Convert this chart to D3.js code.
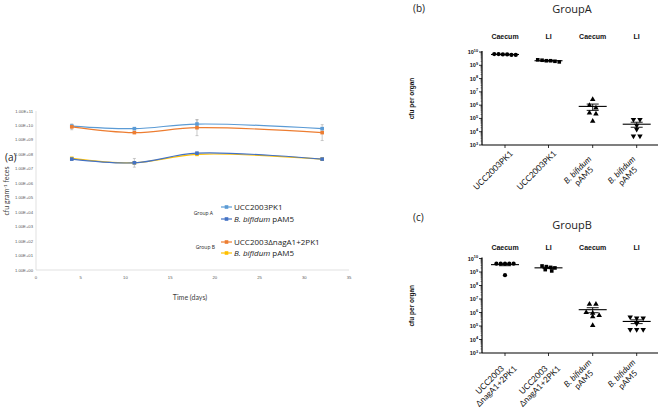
<!DOCTYPE html>
<html><head><meta charset="utf-8">
<script src="https://cdn.jsdelivr.net/npm/d3@7"></script>
<style>body{margin:0;background:#fff}svg{display:block}</style>
</head><body>
<svg id="c" width="660" height="409"></svg>
<script>
// ---------- Panel (a) data ----------
const days = [4, 11, 18, 32];
const groupA_ucc = [9.0e9, 6.0e9, 1.25e10, 6.0e9];
const groupA_bif = [4.7e7, 2.6e7, 1.2e8, 4.7e7];
const groupB_ucc = [8.0e9, 3.2e9, 7.0e9, 3.2e9];
const groupB_bif = [5.3e7, 2.6e7, 1.0e8, 4.7e7];
// error half-widths in log10 units
const errA_ucc = [0.08, 0.05, 0.3, 0.06];
const errA_bif = [0.08, 0.3, 0.08, 0.08];
const errB_ucc = [0.2, 0.05, 0.55, 0.55];
const errB_bif = [0.06, 0.05, 0.05, 0.05];
const seriesNames = ["UCC2003PK1", "B. bifidum pAM5", "UCC2003ΔnagA1+2PK1", "B. bifidum pAM5"];
const groupLabels = ["Group A", "Group B"];
const yTicksA = [1e0,1e1,1e2,1e3,1e4,1e5,1e6,1e7,1e8,1e9,1e10,1e11];
const yTickLabelsA = ["1.00E+00","1.00E+01","1.00E+02","1.00E+03","1.00E+04","1.00E+05","1.00E+06","1.00E+07","1.00E+08","1.00E+09","1.00E+10","1.00E+11"];
const xTicksA = [0, 5, 10, 15, 20, 25, 30, 35];

// ---------- Panels (b),(c) data ----------
const categoriesB = [["UCC2003PK1"], ["UCC2003PK1"], ["B. bifidum", "pAM5"], ["B. bifidum", "pAM5"]];
const categoriesC = [["UCC2003", "ΔnagA1+2PK1"], ["UCC2003", "ΔnagA1+2PK1"], ["B. bifidum", "pAM5"], ["B. bifidum", "pAM5"]];
const headers = ["Caecum", "LI", "Caecum", "LI"];
const b_caecum_ucc = [6.5e9, 7.0e9, 6.0e9, 6.5e9, 7.0e9, 6.0e9];
const b_li_ucc = [2.2e9, 2.0e9, 2.6e9, 1.8e9, 2.4e9, 2.2e9];
const b_caecum_bif = [2.7e6, 9.5e5, 6.3e5, 2.6e5, 2.2e5, 6.3e4];
const b_li_bif = [8.3e4, 8.3e4, 3.0e4, 1.5e4, 4.7e3, 4.7e3];
const c_caecum_ucc = [4.1e9, 4.1e9, 4.1e9, 4.1e9, 4.1e9, 5.8e8];
const c_li_ucc = [2.5e9, 2.8e9, 1.5e9, 1.2e9, 2.0e9, 2.2e9];
const c_caecum_bif = [4.1e6, 4.1e6, 1.0e6, 9.0e5, 6.0e5, 5.0e5, 1.1e5];
const c_li_bif = [4.5e5, 3.8e5, 3.8e5, 1.5e5, 5.5e4, 5.5e4, 5.5e4];
const yTicksBC = [1e3,1e4,1e5,1e6,1e7,1e8,1e9,1e10];
const yTickExp = ["3","4","5","6","7","8","9","10"];

const svg = d3.select("#c");
const FA = "'Liberation Sans', Arial, sans-serif";
const FT = "'Open Sans', 'Liberation Sans', sans-serif";
const FL = "Lato, 'Open Sans', sans-serif";

// ================= Panel (a) =================
const xA = d3.scaleLinear().domain([0, 35]).range([36, 349]);
const yA = d3.scaleLog().domain([1, 1e11]).range([270, 111]);
const ga = svg.append("g");
ga.append("line").attr("x1", xA(0)).attr("x2", xA(0)).attr("y1", yA(1e11)).attr("y2", yA(1)).attr("stroke", "#d9d9d9").attr("stroke-width", 0.8);
ga.append("line").attr("x1", xA(0)).attr("x2", xA(35)).attr("y1", yA(1)).attr("y2", yA(1)).attr("stroke", "#d9d9d9").attr("stroke-width", 0.8);
yTicksA.forEach((t, i) => {
  ga.append("text").attr("x", 33).attr("y", yA(t) + 1.5).attr("text-anchor", "end")
    .attr("font-family", FA).attr("font-size", 4.2).attr("fill", "#595959").text(yTickLabelsA[i]);
});
xTicksA.forEach(t => {
  ga.append("text").attr("x", xA(t)).attr("y", 279).attr("text-anchor", "middle")
    .attr("font-family", FA).attr("font-size", 4.2).attr("fill", "#595959").text(t);
});
ga.append("text").attr("x", 190).attr("y", 300).attr("text-anchor", "middle")
  .attr("font-family", FL).attr("font-size", 7).attr("fill", "#404040").text("Time (days)");
const yt = ga.append("text").attr("transform", "translate(9,191) rotate(-90)").attr("text-anchor", "middle")
  .attr("font-family", FL).attr("font-size", 7).attr("fill", "#404040");
yt.append("tspan").text("cfu gram");
yt.append("tspan").attr("font-size", 4.5).attr("dy", -2.5).text("-1");
yt.append("tspan").attr("dy", 2.5).text(" feces");
svg.append("text").attr("x", 5).attr("y", 161).attr("font-family", FT).attr("font-size", 10).attr("fill", "#222").text("(a)");

const seriesA = [
  {v: groupA_ucc, e: errA_ucc, c: "#5B9BD5"},
  {v: groupB_ucc, e: errB_ucc, c: "#ED7D31"},
  {v: groupB_bif, e: errB_bif, c: "#FFC000"},
  {v: groupA_bif, e: errA_bif, c: "#4472C4"}
];
const lineA = d3.line().x((d, i) => xA(days[i])).y(d => yA(d)).curve(d3.curveCatmullRom.alpha(0.5));
seriesA.forEach(s => {
  s.v.forEach((v, i) => {
    const lv = Math.log10(v);
    const x = xA(days[i]);
    const y1 = yA(Math.pow(10, lv + s.e[i])), y2 = yA(Math.pow(10, lv - s.e[i]));
    ga.append("line").attr("x1", x).attr("x2", x).attr("y1", y1).attr("y2", y2).attr("stroke", "#a6a6a6").attr("stroke-width", 0.6);
    [y1, y2].forEach(yy => ga.append("line").attr("x1", x - 1.5).attr("x2", x + 1.5).attr("y1", yy).attr("y2", yy).attr("stroke", "#a6a6a6").attr("stroke-width", 0.6));
  });
});
seriesA.forEach(s => {
  ga.append("path").attr("d", lineA(s.v)).attr("fill", "none").attr("stroke", s.c).attr("stroke-width", 1.2);
  s.v.forEach((v, i) => {
    ga.append("rect").attr("x", xA(days[i]) - 1.8).attr("y", yA(v) - 1.8).attr("width", 3.6).attr("height", 3.6).attr("fill", s.c);
  });
});
// legend
const legendItems = [
  {name: seriesNames[0], c: "#5B9BD5", y: 207},
  {name: seriesNames[1], c: "#4472C4", y: 219},
  {name: seriesNames[2], c: "#ED7D31", y: 242},
  {name: seriesNames[3], c: "#FFC000", y: 253}
];
legendItems.forEach(it => {
  ga.append("line").attr("x1", 221).attr("x2", 232).attr("y1", it.y).attr("y2", it.y).attr("stroke", it.c).attr("stroke-width", 1.2);
  ga.append("rect").attr("x", 224.7).attr("y", it.y - 1.8).attr("width", 3.6).attr("height", 3.6).attr("fill", it.c);
  const t = ga.append("text").attr("x", 234).attr("y", it.y + 3).attr("font-family", FT).attr("font-size", 8).attr("fill", "#222");
  if (it.name.startsWith("B. bifidum")) {
    t.append("tspan").attr("font-style", "italic").text("B. bifidum");
    t.append("tspan").text(" pAM5");
  } else t.text(it.name);
});
ga.append("text").attr("x", 213).attr("y", 215).attr("text-anchor", "end").attr("font-family", FT).attr("font-size", 5).attr("fill", "#222").text(groupLabels[0]);
ga.append("text").attr("x", 215).attr("y", 249).attr("text-anchor", "end").attr("font-family", FT).attr("font-size", 5).attr("fill", "#222").text(groupLabels[1]);

// ================= Panels (b),(c) =================
const catX = [505, 548.5, 592.7, 636.7];
const shapes = [d3.symbolCircle, d3.symbolSquare, d3.symbolTriangle, d3.symbolTriangle];
function drawPanel(top, bottom, cats, data, letter, title, letterY, titleY, headY, labelAlign) {
  const g = svg.append("g");
  const y = d3.scaleLog().domain([1e3, 1e10]).range([bottom, top]);
  const x0 = 482;
  svg.append("text").attr("x", 413).attr("y", letterY).attr("font-family", FT).attr("font-size", 10).attr("fill", "#222").text(letter);
  svg.append("text").attr("x", 572).attr("y", titleY).attr("text-anchor", "middle").attr("font-family", FT).attr("font-size", 11).attr("fill", "#222").text(title);
  headers.forEach((h, i) => g.append("text").attr("x", catX[i]).attr("y", headY).attr("text-anchor", "middle")
    .attr("font-family", FA).attr("font-weight", "bold").attr("font-size", 7).attr("fill", "#111").text(h));
  // axes
  g.append("line").attr("x1", x0).attr("x2", x0).attr("y1", y(1e10) - 1).attr("y2", bottom).attr("stroke", "#000").attr("stroke-width", 1.2);
  g.append("line").attr("x1", x0).attr("x2", 658).attr("y1", bottom).attr("y2", bottom).attr("stroke", "#000").attr("stroke-width", 1.2);
  yTicksBC.forEach((t, i) => {
    g.append("line").attr("x1", x0 - 3).attr("x2", x0).attr("y1", y(t)).attr("y2", y(t)).attr("stroke", "#000").attr("stroke-width", 0.8);
    if (i < yTicksBC.length - 1) {
      for (let k = 2; k < 10; k++) {
        const yy = y(t * k);
        g.append("line").attr("x1", x0 - 1.5).attr("x2", x0).attr("y1", yy).attr("y2", yy).attr("stroke", "#000").attr("stroke-width", 0.4);
      }
    }
    const tx = g.append("text").attr("x", x0 - 4).attr("y", y(t) + 2).attr("text-anchor", "end")
      .attr("font-family", FA).attr("font-weight", "bold").attr("font-size", 5.5).attr("fill", "#111");
    tx.append("tspan").text("10");
    tx.append("tspan").attr("font-size", 3.8).attr("dy", -2.5).text(yTickExp[i]);
  });
  g.append("text").attr("transform", `translate(414,${(top + bottom) / 2}) rotate(-90)`).attr("text-anchor", "middle")
    .attr("font-family", FA).attr("font-weight", "bold").attr("font-size", 6.5).attr("fill", "#111").text("cfu per organ");
  catX.forEach((cx, i) => {
    g.append("line").attr("x1", cx).attr("x2", cx).attr("y1", bottom).attr("y2", bottom + 3).attr("stroke", "#000").attr("stroke-width", 0.8);
    const lines = cats[i];
    const outer = g.append("g");
    const t = outer.append("text").attr("transform", "rotate(-45)")
      .attr("text-anchor", "middle").attr("font-family", FL).attr("font-size", 8.3).attr("fill", "#111");
    lines.forEach((ln, j) => {
      t.append("tspan").attr("x", 0).attr("y", (j - (lines.length - 1) / 2) * 9)
        .attr("font-style", ln.startsWith("B. bifidum") ? "italic" : "normal").text(ln);
    });
    const bb = outer.node().getBBox();
    const tx = cx - 12 - (bb.x + bb.width / 2);
    const ty = labelAlign === "bottom" ? (bottom + 47 - (bb.y + bb.height)) : (bottom + 4 - bb.y);
    outer.attr("transform", `translate(${tx},${ty})`);
  });
  // points
  data.forEach((vals, i) => {
    const cx = catX[i];
    const n = vals.length;
    const mean = d3.mean(vals);
    const sem = d3.deviation(vals) / Math.sqrt(n);
    const pts = vals.map(v => ({v, py: y(v)})).sort((a, b) => a.py - b.py);
    const rows = [];
    pts.forEach(p => {
      const r = rows[rows.length - 1];
      if (r && p.py - r[0].py < 3.5) r.push(p); else rows.push([p]);
    });
    const sym = d3.symbol().type(shapes[i]).size(i === 0 ? 14 : 13);
    g.append("line").attr("x1", cx - 14).attr("x2", cx + 14).attr("y1", y(mean)).attr("y2", y(mean)).attr("stroke", "#000").attr("stroke-width", 1.1);
    const yHi = y(mean + sem), yLo = y(Math.max(mean - sem, 1e3));
    g.append("line").attr("x1", cx).attr("x2", cx).attr("y1", yHi).attr("y2", yLo).attr("stroke", "#000").attr("stroke-width", 0.9);
    [yHi, yLo].forEach(yy => g.append("line").attr("x1", cx - 6).attr("x2", cx + 6).attr("y1", yy).attr("y2", yy).attr("stroke", "#000").attr("stroke-width", 0.9));
    rows.forEach(r => {
      const sp = r.length > 3 ? 4.3 : 6.5;
      r.forEach((p, j) => {
        const dx = (j - (r.length - 1) / 2) * sp;
        g.append("path").attr("d", sym()).attr("fill", "#000")
          .attr("transform", `translate(${cx + dx},${p.py})${i === 3 ? " rotate(180)" : ""}`);
      });
    });
  });
}
drawPanel(52, 145, categoriesB, [b_caecum_ucc, b_li_ucc, b_caecum_bif, b_li_bif], "(b)", "GroupA", 12, 13, 39, "bottom");
drawPanel(258.5, 353, categoriesC, [c_caecum_ucc, c_li_ucc, c_caecum_bif, c_li_bif], "(c)", "GroupB", 221, 229, 250, "top");
</script>
</body></html>
